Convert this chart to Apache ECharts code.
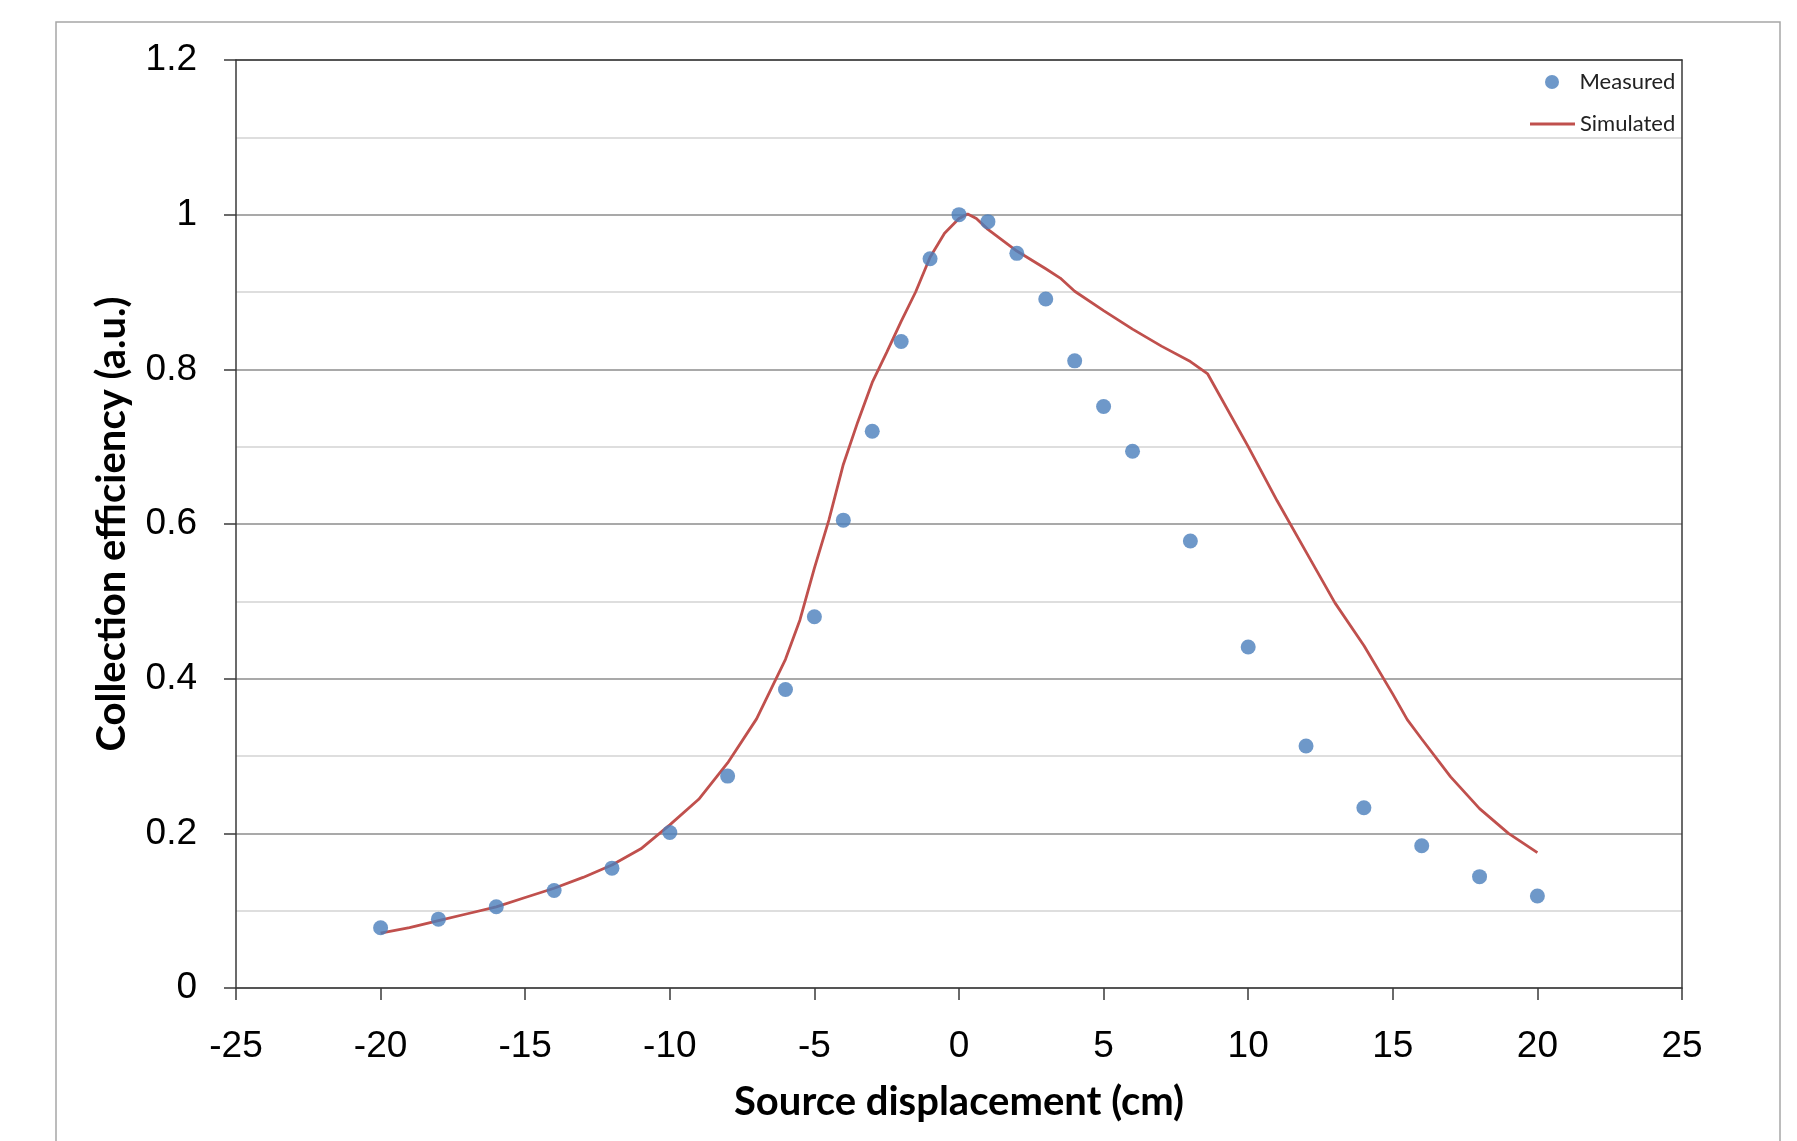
<!DOCTYPE html>
<html>
<head>
<meta charset="utf-8">
<script src="https://cdn.jsdelivr.net/npm/echarts@6/dist/echarts.min.js"></script>
<style>
html,body{margin:0;padding:0;background:#fff;}
#chart{width:1797px;height:1141px;}
</style>
</head>
<body>
<div id="chart"></div>
<script>
// Measured points
const measuredX = [-20, -18, -16, -14, -12, -10, -8, -6, -5, -4, -3, -2, -1, 0, 1, 2, 3, 4, 5, 6, 8, 10, 12, 14, 16, 18, 20];
const measuredY = [0.078, 0.089, 0.105, 0.126, 0.155, 0.201, 0.274, 0.386, 0.480, 0.605, 0.720, 0.836, 0.943, 1.000, 0.991, 0.950, 0.891, 0.811, 0.752, 0.694, 0.578, 0.441, 0.313, 0.233, 0.184, 0.144, 0.119];

// Simulated curve
const simulatedX = [-20, -19, -18, -17, -16, -15, -14, -13, -12, -11, -10, -9, -8, -7, -6, -5.5, -5, -4.5, -4, -3.5, -3, -2.5, -2, -1.5, -1, -0.5, 0, 0.3, 0.6, 1, 2, 3, 3.5, 4, 5, 6, 7, 8, 8.6, 10, 11, 12, 13, 14, 15, 15.5, 16, 17, 18, 19, 20];
const simulatedY = [0.071, 0.078, 0.087, 0.096, 0.105, 0.117, 0.129, 0.143, 0.159, 0.180, 0.211, 0.244, 0.291, 0.348, 0.425, 0.476, 0.543, 0.605, 0.677, 0.732, 0.783, 0.822, 0.862, 0.900, 0.945, 0.976, 0.995, 1.001, 0.995, 0.981, 0.953, 0.930, 0.918, 0.901, 0.876, 0.852, 0.830, 0.810, 0.794, 0.700, 0.630, 0.564, 0.498, 0.443, 0.380, 0.347, 0.322, 0.273, 0.232, 0.200, 0.175];

const seriesNames = ['Measured', 'Simulated'];
const xTicks = { min: -25, max: 25, interval: 5 };
const yTicks = { min: 0, max: 1.2, interval: 0.2 };
const xTitle = 'Source displacement (cm)';
const yTitle = 'Collection efficiency (a.u.)';

const measuredData = measuredX.map((x, i) => [x, measuredY[i]]);
const simulatedData = simulatedX.map((x, i) => [x, simulatedY[i]]);

const chart = echarts.init(document.getElementById('chart'), null, { renderer: 'canvas' });
const axisColor = '#3a3a3a';
const tickFont = { fontFamily: '"Liberation Sans", Arial, sans-serif', fontSize: 37, color: '#000' };
const titleFont = { fontFamily: 'Lato, "Liberation Sans", sans-serif', fontWeight: 'bold', fontSize: 40, color: '#000' };
const legendText = { fontFamily: 'Lato, "Liberation Sans", sans-serif', fontSize: 22, color: '#222', lineHeight: 22 };

chart.setOption({
  animation: false,
  backgroundColor: '#fff',
  graphic: [{
    type: 'rect',
    shape: { x: 56, y: 22, width: 1724, height: 1200 },
    style: { fill: null, stroke: '#a6a6a6', lineWidth: 1.5 },
    silent: true, z: -10
  }],
  grid: { left: 236, right: 115, top: 60, bottom: 153, containLabel: false },
  legend: [{
    data: [{ name: seriesNames[0], icon: 'circle' }],
    orient: 'vertical',
    left: 1540,
    top: 66,
    itemWidth: 45,
    itemHeight: 14,
    textStyle: legendText
  }, {
    data: [{ name: seriesNames[1], icon: 'rect' }],
    orient: 'vertical',
    left: 1525,
    top: 108,
    itemWidth: 45,
    itemHeight: 3,
    textStyle: legendText
  }],
  xAxis: [{
    type: 'value',
    min: xTicks.min, max: xTicks.max, interval: xTicks.interval,
    name: xTitle, nameLocation: 'middle', nameGap: 94,
    nameTextStyle: titleFont,
    axisLine: { show: true, onZero: false, lineStyle: { color: axisColor, width: 1.5 } },
    axisTick: { show: true, inside: false, length: 12, lineStyle: { color: axisColor, width: 1.5 } },
    axisLabel: Object.assign({ margin: 40 }, tickFont),
    splitLine: { show: false }
  }, {
    type: 'value', position: 'top',
    min: xTicks.min, max: xTicks.max, interval: xTicks.interval,
    axisLine: { show: true, onZero: false, lineStyle: { color: axisColor, width: 1.5 } },
    axisTick: { show: false }, axisLabel: { show: false }, splitLine: { show: false }, z: 1
  }],
  yAxis: [{
    type: 'value',
    min: yTicks.min, max: yTicks.max, interval: yTicks.interval,
    name: yTitle, nameLocation: 'middle', nameGap: 104,
    nameTextStyle: titleFont,
    axisLine: { show: true, onZero: false, lineStyle: { color: axisColor, width: 1.5 } },
    axisTick: { show: true, inside: false, length: 12, lineStyle: { color: axisColor, width: 1.5 } },
    axisLabel: Object.assign({ margin: 39, formatter: v => String(Math.round(v * 10) / 10) }, tickFont),
    splitLine: { show: true, lineStyle: { color: '#8c8c8c', width: 1.5 } },
    minorTick: { show: false, splitNumber: 2 },
    minorSplitLine: { show: true, lineStyle: { color: '#d4d4d4', width: 1.5 } }
  }, {
    type: 'value', position: 'right',
    min: yTicks.min, max: yTicks.max, interval: yTicks.interval,
    axisLine: { show: true, onZero: false, lineStyle: { color: axisColor, width: 1.5 } },
    axisTick: { show: false }, axisLabel: { show: false }, splitLine: { show: false }, z: 1
  }],
  series: [{
    name: 'Simulated',
    type: 'line',
    data: simulatedData,
    showSymbol: false,
    symbol: 'none',
    smooth: false,
    lineStyle: { color: '#C0504D', width: 2.8 },
    itemStyle: { color: '#C0504D' },
    z: 3
  }, {
    name: 'Measured',
    type: 'scatter',
    data: measuredData,
    symbol: 'circle',
    symbolSize: 15,
    itemStyle: { color: '#4A7EBB' },
    z: 4
  }]
});
</script>
</body>
</html>
